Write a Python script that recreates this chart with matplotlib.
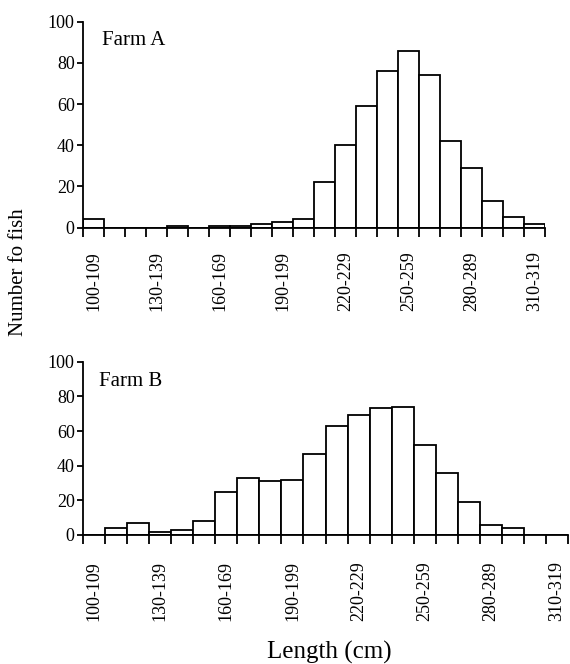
import matplotlib
matplotlib.use("Agg")
import matplotlib.pyplot as plt
import numpy as np

plt.rcParams['font.family'] = ['Liberation Serif', 'DejaVu Serif']

# Bin lower edges (cm), 10 cm wide
bin_starts = list(range(100, 320, 10))
tick_labels = ["100-109", "130-139", "160-169", "190-199",
               "220-229", "250-259", "280-289", "310-319"]

# Counts per bin
farm_a = [4, 0, 0, 0, 1, 0, 1, 1, 2, 3, 4, 22, 40, 59, 76, 86, 74, 42, 29, 13, 5, 2]
farm_b = [0, 4, 7, 2, 3, 8, 25, 33, 31, 32, 47, 63, 69, 73, 74, 52, 36, 19, 6, 4, 0, 0]

fig = plt.figure(figsize=(5.7, 6.64), dpi=100)

ax_a = fig.add_axes([0.1456, 0.6571, 0.8105, 0.3102])
ax_b = fig.add_axes([0.1456, 0.1943, 0.8510, 0.2610])


def draw_panel(ax, counts, name, text_x, text_y, label_pad):
    ax.bar(bin_starts, counts, width=10, align='edge',
           facecolor='white', edgecolor='black', linewidth=1.3)
    ax.set_xlim(100, 320)
    ax.set_ylim(0, 100)
    ax.spines['top'].set_visible(False)
    ax.spines['right'].set_visible(False)
    ax.spines['left'].set_linewidth(1.3)
    ax.spines['bottom'].set_linewidth(1.3)
    ax.set_yticks([0, 20, 40, 60, 80, 100])
    # ticks at bin edges, labels at every third bin centre
    ax.set_xticks(list(range(100, 330, 10)))
    ax.set_xticklabels([])
    ax.set_xticks([b + 5 for b in bin_starts[::3]], minor=True)
    ax.set_xticklabels(tick_labels, minor=True, rotation=90, fontsize=13)
    ax.tick_params(axis='x', which='major', direction='out', length=6.5, width=1.3)
    ax.tick_params(axis='x', which='minor', length=0, pad=label_pad)
    ax.tick_params(axis='y', direction='out', length=4, width=1.3, pad=2, labelsize=13)
    ax.text(text_x, text_y, name, transform=ax.transAxes, fontsize=15, va='center')
    for sp in ax.spines.values():
        sp.set_clip_on(False)


draw_panel(ax_a, farm_a, "Farm A", 0.041, 0.91, 17)
draw_panel(ax_b, farm_b, "Farm B", 0.033, 0.883, 19)

fig.text(0.032, 0.59, "Number fo fish", rotation=90, fontsize=15,
         ha='center', va='center')
fig.text(0.577, 0.018, "Length (cm)", fontsize=18, ha='center', va='center')

fig.savefig("out.png", dpi=100)
